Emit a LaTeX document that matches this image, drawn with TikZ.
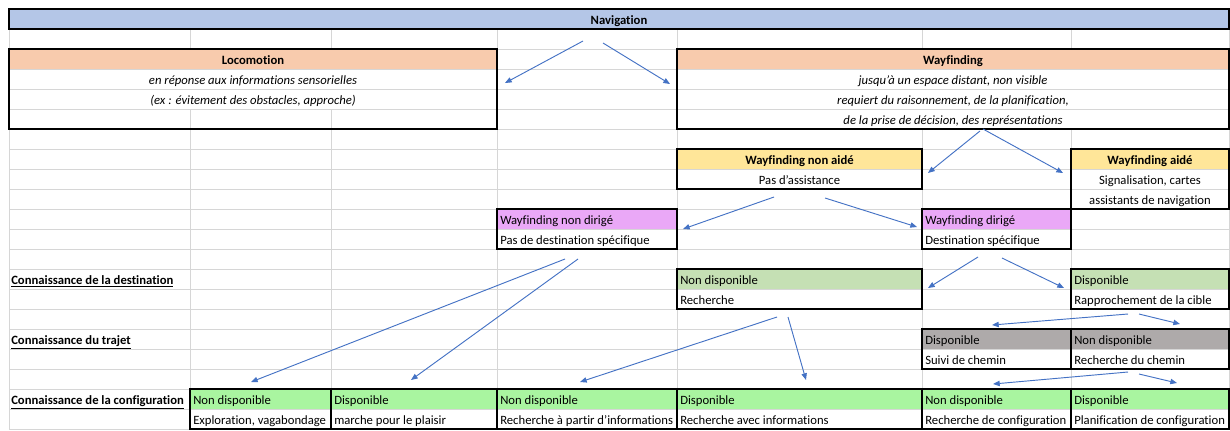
\documentclass[tikz,border=0pt]{standalone}
\usepackage{fontspec}
\setmainfont{Carlito}[Ligatures=NoCommon]
\usetikzlibrary{arrows.meta}
\definecolor{gridgray}{HTML}{D6D6D6}
\definecolor{navblue}{HTML}{B4C6E7}
\definecolor{peach}{HTML}{F8CBAD}
\definecolor{paleyellow}{HTML}{FFE699}
\definecolor{lilac}{HTML}{EAA8F7}
\definecolor{sage}{HTML}{C5E0B4}
\definecolor{stone}{HTML}{AEAAAA}
\definecolor{lime}{HTML}{A9F5A0}
\definecolor{linkblue}{HTML}{4472C4}

\begin{document}
\begin{tikzpicture}[x=0.75pt,y=-0.75pt,
			grid/.style={draw=gridgray,line width=0.6pt},
			box/.style={draw=black,line width=1.4pt},
			link/.style={draw=linkblue,line width=0.7pt,-{Triangle[length=5pt,width=4pt]}},
			title/.style={font=\bfseries\fontsize{9.5}{11}\selectfont,inner sep=0pt,anchor=base},
			note/.style={font=\itshape\fontsize{9.5}{11}\selectfont,inner sep=0pt,anchor=base},
			cell/.style={font=\fontsize{9.5}{11}\selectfont,inner sep=0pt,anchor=base},
			leftcell/.style={cell,anchor=base west},
			rowlabel/.style={font=\bfseries\fontsize{9.5}{11}\selectfont,inner sep=0pt,anchor=base west}]

		\useasboundingbox (0,0) rectangle (1230,430);

		\foreach \y in {29,49,...,429}
			\draw [grid] (9,\y) -- (1229,\y);
		\foreach \x in {9,190,331,497,677,922,1071,1229}
			\draw [grid] (\x,29) -- (\x,429);

		\foreach \t in {69,89}
			\fill [white] (10,\t+0.5) rectangle (496,\t+19.5);
		\foreach \t in {69,89,109}
			\fill [white] (678,\t+0.5) rectangle (1228,\t+19.5);

		\fill [navblue] (9,9) rectangle (1229,29);
		\fill [peach] (9,49) rectangle (497,69);
		\fill [peach] (677,49) rectangle (1229,69);
		\fill [paleyellow] (677,149) rectangle (922,169);
		\fill [paleyellow] (1071,149) rectangle (1229,169);
		\fill [lilac] (497,209) rectangle (677,229);
		\fill [lilac] (922,209) rectangle (1071,229);
		\fill [sage] (677,269) rectangle (922,289);
		\fill [sage] (1071,269) rectangle (1229,289);
		\fill [stone] (922,329) rectangle (1229,349);
		\fill [lime] (190,389) rectangle (1229,409);

		\draw [box] (9,9) rectangle (1229,29);
		\draw [box] (9,49) rectangle (497,129);
		\draw [box] (677,49) rectangle (1229,129);
		\draw [box] (677,149) rectangle (922,189);
		\draw [box] (1071,149) rectangle (1229,209);
		\draw [box] (497,209) rectangle (677,249);
		\draw [box] (922,209) rectangle (1071,249);
		\draw [box] (677,269) rectangle (922,309);
		\draw [box] (1071,269) rectangle (1229,309);
		\draw [box] (922,329) rectangle (1071,369);
		\draw [box] (1071,329) rectangle (1229,369);
		\foreach \xa/\xb in {190/331,331/497,497/677,677/922,922/1071,1071/1229}
			\draw [box] (\xa,389) rectangle (\xb,429);

		\node [title] (nav) at (619,24) {Navigation};

		\node [title] (loco) at (253,64) {Locomotion};
		\node [note] (loco1) at (253,84) {en réponse aux informations sensorielles};
		\node [note] (loco2) at (253,104) {(ex : évitement des obstacles, approche)};

		\node [title] (way) at (953,64) {Wayfinding};
		\node [note] (way1) at (953,84) {jusqu'à un espace distant, non visible};
		\node [note] (way2) at (953,104) {requiert du raisonnement, de la planification,};
		\node [note] (way3) at (953,124) {de la prise de décision, des représentations};

		\node [title] (wna) at (799.5,164) {Wayfinding non aidé};
		\node [cell] (wna1) at (799.5,184) {Pas d'assistance};
		\node [title] (wa) at (1150,164) {Wayfinding aidé};
		\node [cell] (wa1) at (1150,184) {Signalisation, cartes};
		\node [cell] (wa2) at (1150,204) {assistants de navigation};

		\node [leftcell] (wnd) at (500,224) {Wayfinding non dirigé};
		\node [leftcell] (wnd1) at (500,244) {Pas de destination spécifique};
		\node [leftcell] (wd) at (925,224) {Wayfinding dirigé};
		\node [leftcell] (wd1) at (925,244) {Destination spécifique};

		\node [rowlabel] (dest) at (11,284) {\underline{Connaissance de la destination}};
		\node [leftcell] (destnd) at (680,284) {Non disponible};
		\node [leftcell] (destnd1) at (680,304) {Recherche};
		\node [leftcell] (destd) at (1074,284) {Disponible};
		\node [leftcell] (destd1) at (1074,304) {Rapprochement de la cible};

		\node [rowlabel] (traj) at (11,344) {\underline{Connaissance du trajet}};
		\node [leftcell] (trajd) at (925,344) {Disponible};
		\node [leftcell] (trajd1) at (925,364) {Suivi de chemin};
		\node [leftcell] (trajnd) at (1074,344) {Non disponible};
		\node [leftcell] (trajnd1) at (1074,364) {Recherche du chemin};

		\node [rowlabel] (conf) at (11,404) {\underline{Connaissance de la configuration}};
		\node [leftcell] (confb) at (193,404) {Non disponible};
		\node [leftcell] (confb1) at (193,424) {Exploration, vagabondage};
		\node [leftcell] (confc) at (334,404) {Disponible};
		\node [leftcell] (confc1) at (334,424) {marche pour le plaisir};
		\node [leftcell] (confd) at (500,404) {Non disponible};
		\node [leftcell] (confd1) at (500,424) {Recherche à partir d'informations};
		\node [leftcell] (confe) at (680,404) {Disponible};
		\node [leftcell] (confe1) at (680,424) {Recherche avec informations};
		\node [leftcell] (conff) at (925,404) {Non disponible};
		\node [leftcell] (conff1) at (925,424) {Recherche de configuration};
		\node [leftcell] (confg) at (1074,404) {Disponible};
		\node [leftcell] (confg1) at (1074,424) {Planification de configuration};

		\coordinate (nav-l) at (583,41);
		\coordinate (nav-r) at (603,43);
		\coordinate (loco-in) at (505,83);
		\coordinate (way-in) at (670,84);
		\coordinate (way-l) at (980,131);
		\coordinate (way-r) at (983,129);
		\coordinate (wna-in) at (928,173);
		\coordinate (wa-in) at (1063,173);
		\coordinate (wna-l) at (774,197);
		\coordinate (wna-r) at (825,198);
		\coordinate (wnd-in) at (683,229);
		\coordinate (wd-in) at (917,227);
		\coordinate (wd-l) at (978,257);
		\coordinate (wd-r) at (1002,258);
		\coordinate (destnd-in) at (928,288);
		\coordinate (destd-in) at (1064,288);
		\coordinate (wnd-l) at (565,259);
		\coordinate (wnd-r) at (578,259);
		\coordinate (confb-in) at (251,382);
		\coordinate (confc-in) at (411,380);
		\coordinate (destnd-l) at (777,317);
		\coordinate (destnd-r) at (788,317);
		\coordinate (confd-in) at (580,382);
		\coordinate (confe-in) at (806,380);
		\coordinate (destd-l) at (1128,314);
		\coordinate (destd-r) at (1139,314);
		\coordinate (trajd-in) at (992,325);
		\coordinate (trajnd-in) at (1180,324);
		\coordinate (trajnd-l) at (1128,372);
		\coordinate (trajnd-r) at (1139,374);
		\coordinate (conff-in) at (993,384);
		\coordinate (confg-in) at (1177,383);

		\draw [link] (nav-l) -- (loco-in);
		\draw [link] (nav-r) -- (way-in);
		\draw [link] (way-l) -- (wna-in);
		\draw [link] (way-r) -- (wa-in);
		\draw [link] (wna-l) -- (wnd-in);
		\draw [link] (wna-r) -- (wd-in);
		\draw [link] (wd-l) -- (destnd-in);
		\draw [link] (wd-r) -- (destd-in);
		\draw [link] (wnd-l) -- (confb-in);
		\draw [link] (wnd-r) -- (confc-in);
		\draw [link] (destnd-l) -- (confd-in);
		\draw [link] (destnd-r) -- (confe-in);
		\draw [link] (destd-l) -- (trajd-in);
		\draw [link] (destd-r) -- (trajnd-in);
		\draw [link] (trajnd-l) -- (conff-in);
		\draw [link] (trajnd-r) -- (confg-in);

		\end{tikzpicture}
\end{document}
